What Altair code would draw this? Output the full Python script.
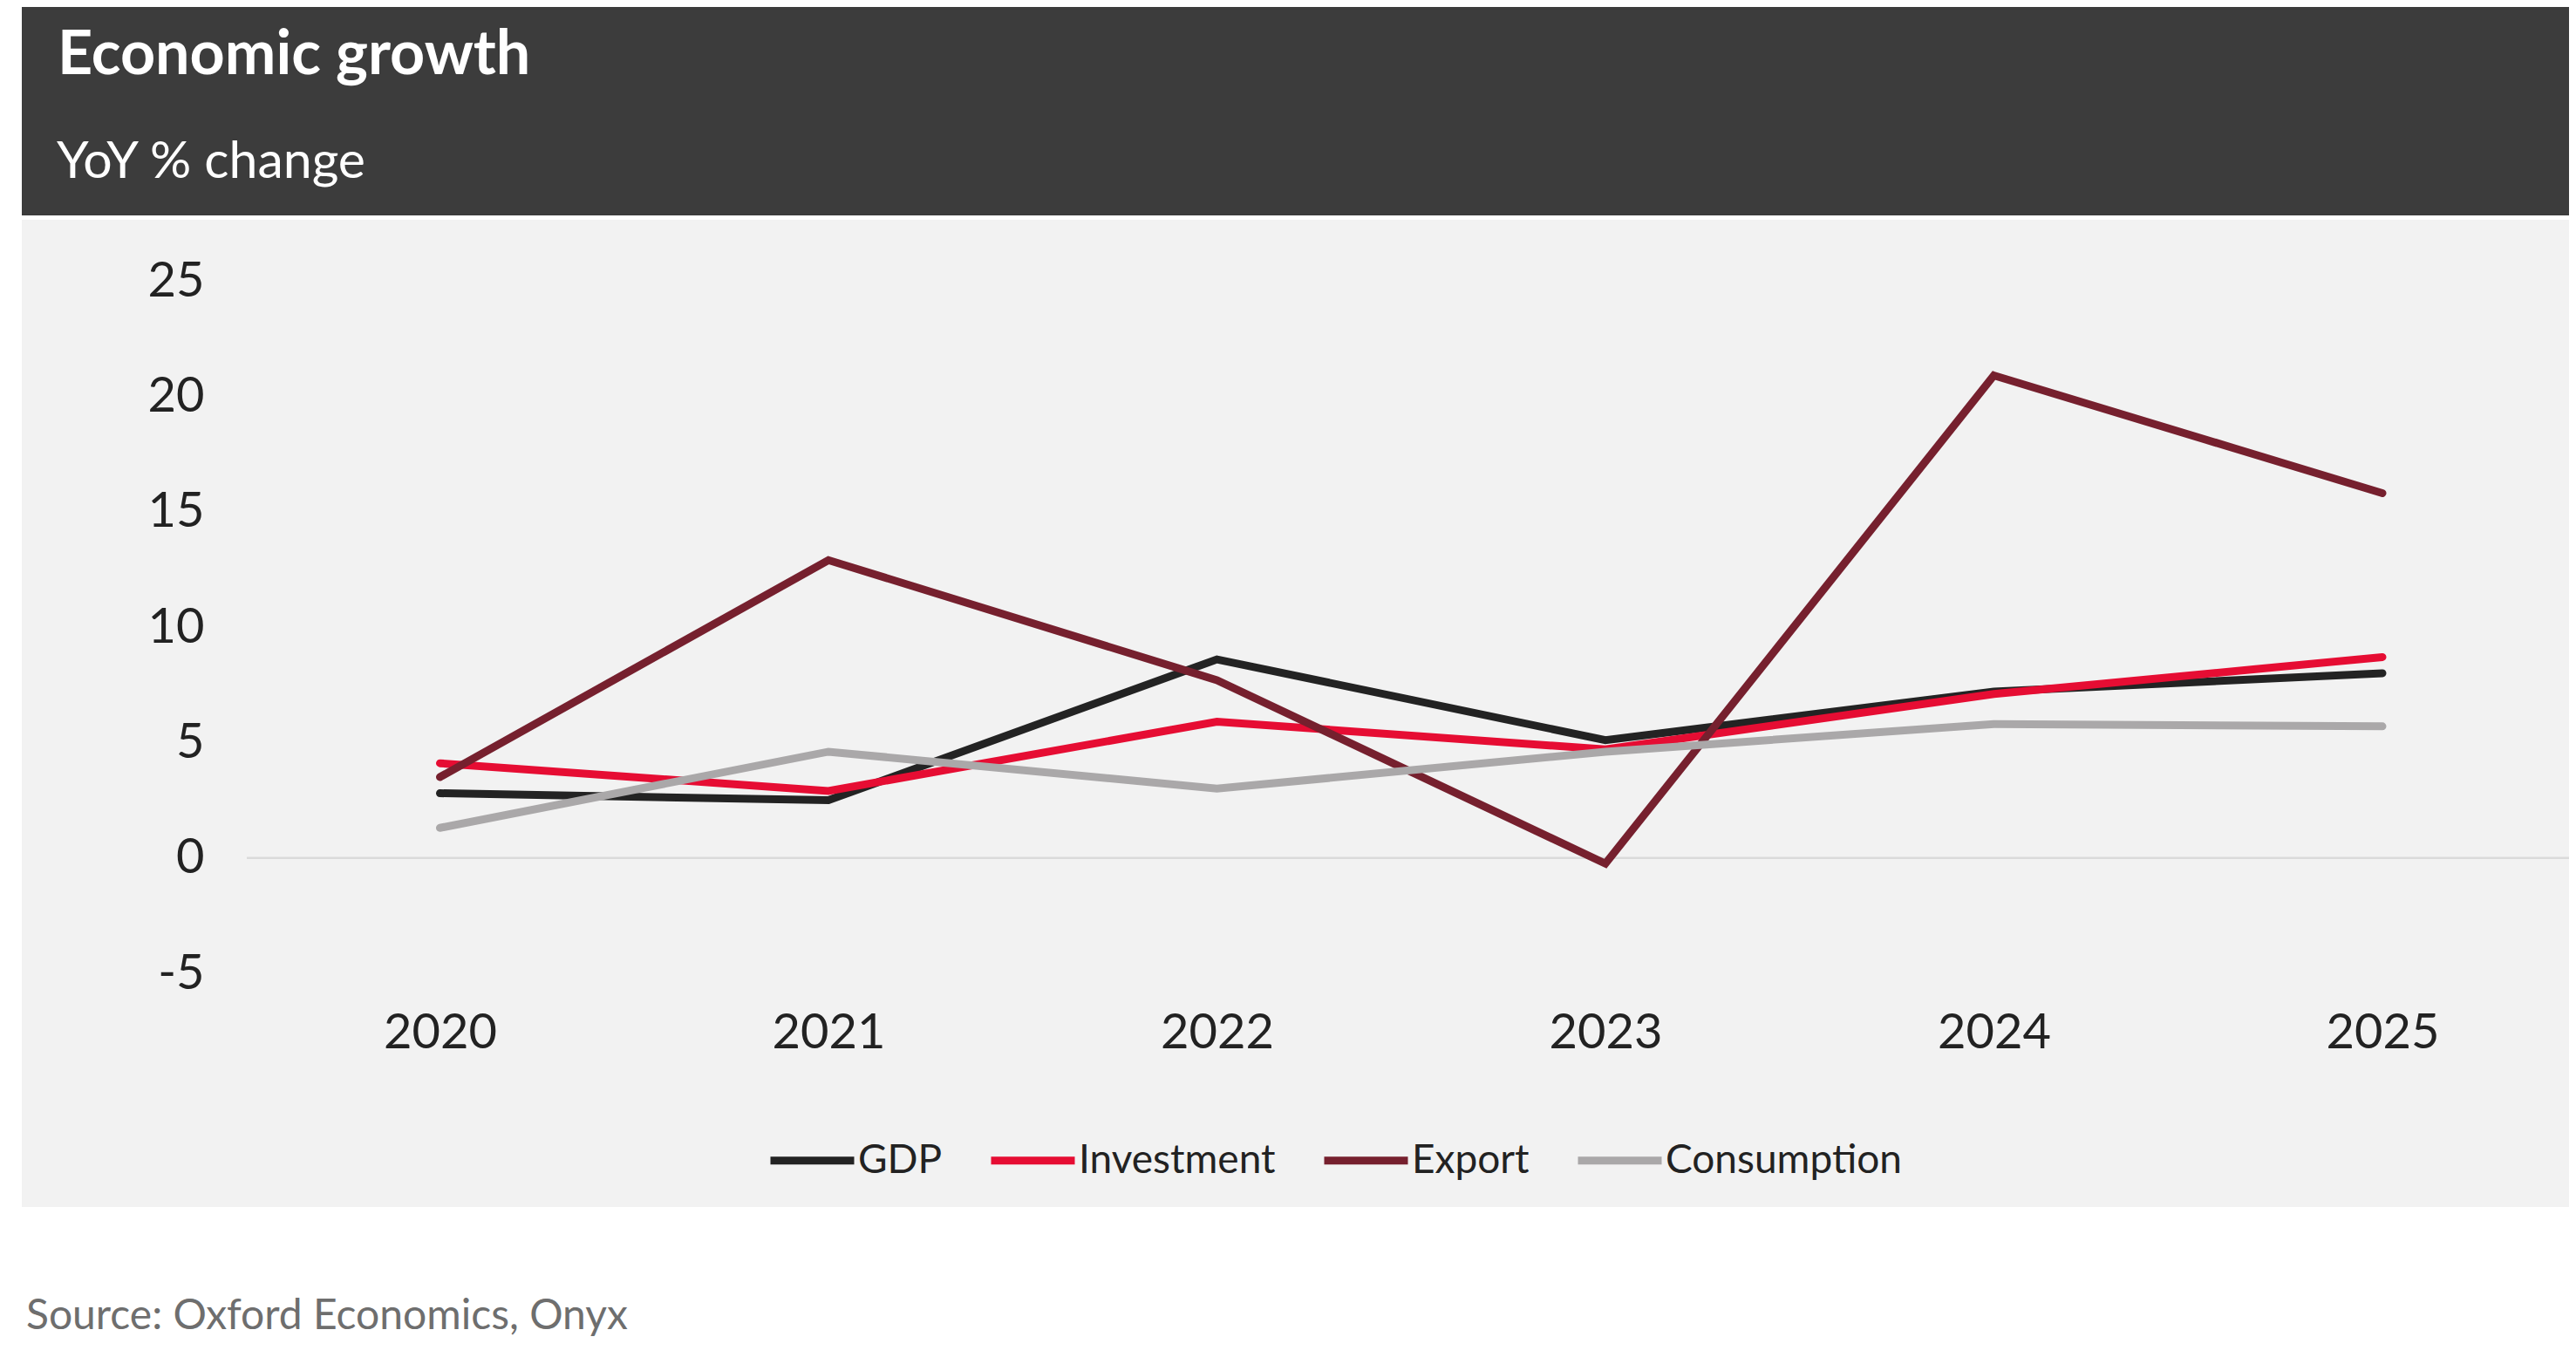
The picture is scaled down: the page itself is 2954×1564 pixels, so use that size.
import altair as alt
import pandas as pd

years = ["2020", "2021", "2022", "2023", "2024", "2025"]
series_names = ["GDP", "Investment", "Export", "Consumption"]
gdp = [2.8, 2.5, 8.6, 5.1, 7.2, 8.0]
investment = [4.1, 2.9, 5.9, 4.7, 7.1, 8.7]
export = [3.5, 12.9, 7.7, -0.25, 20.9, 15.8]
consumption = [1.3, 4.6, 3.0, 4.6, 5.8, 5.7]
series_colors = ["#232323", "#e60d33", "#76202e", "#aaa8a9"]
y_ticks = [-5, 0, 5, 10, 15, 20, 25]

title_text = "Economic growth"
subtitle_text = "YoY % change"
source_text = "Source: Oxford Economics, Onyx"

rows = []
for name, vals in zip(series_names, [gdp, investment, export, consumption]):
    for yr, v in zip(years, vals):
        rows.append({"year": yr, "series": name, "value": v})
df = pd.DataFrame(rows)

W, H = 2663, 794
FONT = "Lato"
one = pd.DataFrame({"k": [0]})

dark = alt.Chart(one).mark_rect(color="#3c3c3c").encode(
    x=alt.value(-258), x2=alt.value(W), y=alt.value(-314), y2=alt.value(-75)
)
light = alt.Chart(one).mark_rect(color="#f2f2f2").encode(
    x=alt.value(-258), x2=alt.value(W), y=alt.value(-70), y2=alt.value(1062)
)
zero = alt.Chart(one).mark_rule(color="#dadada", strokeWidth=2.5).encode(
    y=alt.datum(0)
)

lines = alt.Chart(df).mark_line(strokeWidth=9, strokeCap="round", strokeJoin="miter").encode(
    x=alt.X("year:O", sort=years,
            scale=alt.Scale(type="point", range=[221.5, 2449], padding=0),
            axis=alt.Axis(title=None, labelAngle=0, ticks=False, domain=False, grid=False,
                          labelPadding=41, labelFontSize=56, labelColor="#222222",
                          labelFont=FONT, zindex=2)),
    y=alt.Y("value:Q", scale=alt.Scale(domain=[-5, 25], nice=False, zero=False),
            axis=alt.Axis(title=None, values=y_ticks, ticks=False, domain=False, grid=False,
                          labelExpr="toString(datum.value)",
                          labelPadding=49, labelFontSize=56, labelColor="#222222",
                          labelFont=FONT, zindex=2)),
    color=alt.Color("series:N",
                    scale=alt.Scale(domain=series_names, range=series_colors),
                    legend=alt.Legend(title=None, orient="none", legendX=596, legendY=956,
                                      direction="horizontal", symbolType="stroke",
                                      symbolSize=9216, symbolStrokeWidth=9,
                                      labelFontSize=46, labelFont=FONT, labelColor="#222222",
                                      labelLimit=1000, labelOffset=0, columnPadding=37,
                                      padding=0, zindex=2)),
    order=alt.Order("series_order:Q"),
).transform_calculate(
    series_order="indexof(['GDP','Investment','Export','Consumption'], datum.series)"
)

title = alt.Chart(one).mark_text(align="left", baseline="alphabetic", fontSize=70,
                                 fontWeight="bold", font=FONT, color="#ffffff").encode(
    x=alt.value(-217), y=alt.value(-237), text=alt.value(title_text))
subtitle = alt.Chart(one).mark_text(align="left", baseline="alphabetic", fontSize=59,
                                    font=FONT, color="#ffffff").encode(
    x=alt.value(-218), y=alt.value(-118), text=alt.value(subtitle_text))
source = alt.Chart(one).mark_text(align="left", baseline="alphabetic", fontSize=48,
                                  font=FONT, color="#6e6e6e").encode(
    x=alt.value(-253), y=alt.value(1202), text=alt.value(source_text))

chart = alt.layer(dark, light, zero, lines, title, subtitle, source).properties(
    width=W, height=H,
    autosize=alt.AutoSizeParams(type="none"),
    padding={"left": 275, "top": 314, "right": 0, "bottom": 440},
    background="#ffffff",
).configure_view(stroke=None)

chart.save("out.html", embed_options={"renderer": "svg", "actions": False})
